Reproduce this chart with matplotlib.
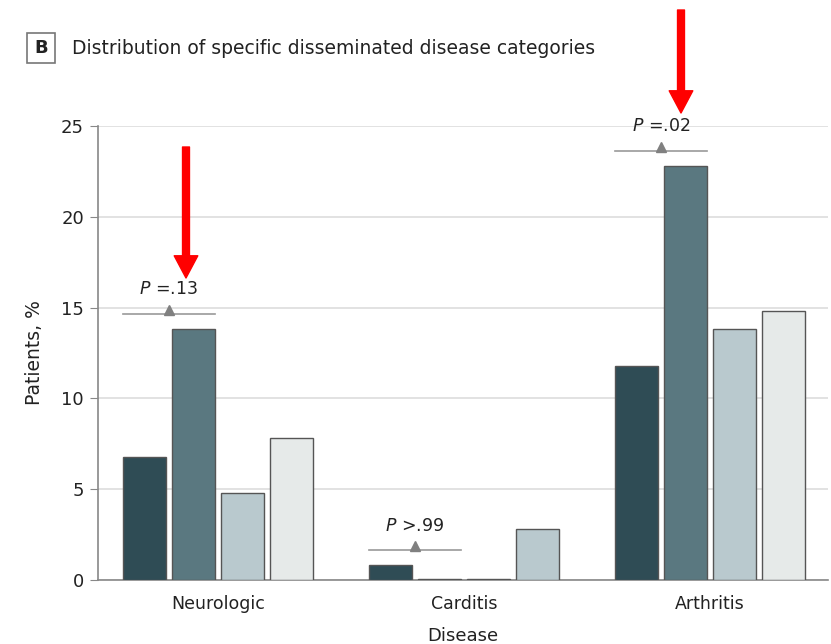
import numpy as np
import matplotlib.pyplot as plt
from matplotlib.patches import Rectangle

# valeurs (% de patients)
categories = ["Neurologic", "Carditis", "Arthritis"]
serie_1 = [6.8, 0.8, 11.8]
serie_2 = [13.8, 0.05, 22.8]
serie_3 = [4.8, 0.05, 13.8]
serie_4 = [7.8, 2.8, 14.8]
p_labels = ["$P$ =.13", "$P$ >.99", "$P$ =.02"]
y_ticks = [0, 5, 10, 15, 20, 25]

couleurs = ["#2f4c55", "#5a7880", "#b9c9ce", "#e6eae9"]
series = [serie_1, serie_2, serie_3, serie_4]
# la 4e barre de Carditis est dans la teinte de la serie 3 sur l'original
couleurs_barres = [[c] * len(categories) for c in couleurs]
couleurs_barres[3][1] = couleurs[2]

fig = plt.figure(figsize=(8.31, 6.44), dpi=100)
ax = fig.add_axes([98 / 831, 1 - 580 / 644, 730 / 831, 454 / 644])

x = np.arange(len(categories))
pas = 0.2
larg = 0.175
for i, s in enumerate(series):
    ax.bar(x + (i - 1.5) * pas, s, larg, color=couleurs_barres[i],
           edgecolor="#555555", linewidth=1, zorder=3)

# crochets P entre les deux premieres barres
for k in range(len(categories)):
    x0 = x[k] - 1.5 * pas - larg / 2
    x1 = x[k] - 0.5 * pas + larg / 2
    h = max(serie_1[k], serie_2[k]) + 0.85
    ax.plot([x0, x1], [h, h], color="#999999", lw=1.2, zorder=4, clip_on=False)
    ax.plot((x0 + x1) / 2, h + 0.2, marker="^", ms=6.5, color="#808080",
            zorder=5, clip_on=False)
    ax.text((x0 + x1) / 2, h + 1.35, p_labels[k], ha="center", va="center",
            fontsize=12.5, color="#222222", clip_on=False)

ax.set_xlim(-0.488, 2.48)
ax.set_ylim(0, 25)
ax.set_yticks(y_ticks)
ax.set_xticks(x)
ax.set_xticklabels(categories)
ax.grid(axis="y", color="#dddddd", lw=1.2, zorder=0)
ax.set_axisbelow(True)
for sp in ["top", "right"]:
    ax.spines[sp].set_visible(False)
for sp in ["left", "bottom"]:
    ax.spines[sp].set_color("#888888")
    ax.spines[sp].set_linewidth(1.2)
ax.tick_params(axis="y", length=6, color="#888888", labelsize=13,
               labelcolor="#222222", pad=4)
ax.tick_params(axis="x", length=0, labelsize=12.5, labelcolor="#222222", pad=11)
ax.set_ylabel("Patients, %", fontsize=13.5, color="#222222", labelpad=12)
ax.set_xlabel("Disease", fontsize=13, color="#222222", labelpad=10)

# titre avec la lettre encadree
fig.patches.append(Rectangle((27 / 831, 1 - 63 / 644), 28 / 831, 30 / 644,
                             transform=fig.transFigure, fill=False,
                             edgecolor="#777777", lw=1.2))
fig.text(41 / 831, 1 - 48 / 644, "B", ha="center", va="center",
         fontsize=13, fontweight="bold", color="#222222")
fig.text(72 / 831, 1 - 48 / 644,
         "Distribution of specific disseminated disease categories",
         ha="left", va="center", fontsize=13.5, color="#222222")

# fleches rouges
for (xa, ytop, ytip) in [(186, 147, 278), (681, 10, 113)]:
    ax.annotate("", xy=(xa, 644 - ytip), xytext=(xa, 644 - ytop),
                xycoords="figure pixels", textcoords="figure pixels",
                arrowprops=dict(color="#ff0000", width=5, headwidth=17,
                                headlength=16, shrink=0),
                annotation_clip=False)

fig.savefig("out.png", dpi=100)
